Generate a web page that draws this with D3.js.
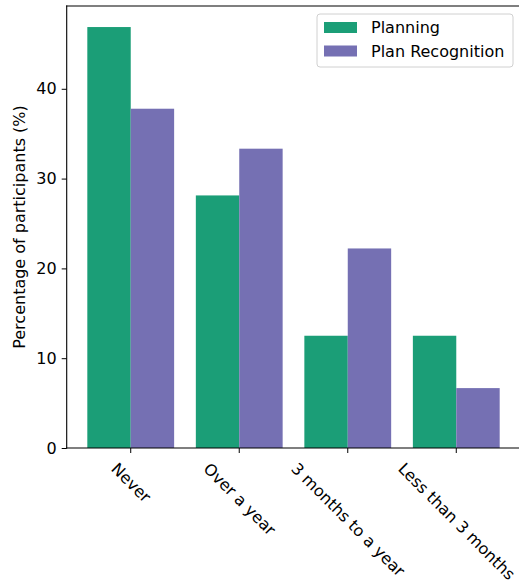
<!DOCTYPE html>
<html>
<head>
<meta charset="utf-8">
<title>participants chart</title>
<script src="https://cdn.jsdelivr.net/npm/d3@7/dist/d3.min.js"></script>
<style>
  html, body { margin: 0; padding: 0; background: #fff; }
  svg text { font-family: "DejaVu Sans", sans-serif; fill: #000; }
</style>
</head>
<body>
<div id="chart"></div>
<script>
// data
var categories = ["Never", "Over a year", "3 months to a year", "Less than 3 months"];
var seriesNames = ["Planning", "Plan Recognition"];
var planning = [46.875, 28.125, 12.5, 12.5];
var planRecognition = [37.78, 33.33, 22.22, 6.67];
var yTicks = [0, 10, 20, 30, 40];
var colors = ["#1b9e77", "#7570b3"];

var w = 519, h = 585;
// note: "top" is taken by window.top, so plot edges get a prefix
var pLeft = 66.7, pRight = 520.3, pTop = 6, pBottom = 448;
var fs = 16;

var svg = d3.select("#chart").append("svg")
  .attr("width", w)
  .attr("height", h);

var x = d3.scaleBand()
  .domain(categories)
  .range([pLeft, pRight])
  .paddingInner(0.2)
  .paddingOuter(0.19);

var xs = d3.scaleBand()
  .domain(seriesNames)
  .range([0, x.bandwidth()]);

var y = d3.scaleLinear()
  .domain([0, 46.875 * 1.05])
  .range([pBottom, pTop]);

var values = [planning, planRecognition];

// bars
seriesNames.forEach(function(s, si) {
  svg.append("g").selectAll("rect")
    .data(categories)
    .enter()
    .append("rect")
    .attr("x", function(d) { return x(d) + xs(s); })
    .attr("width", xs.bandwidth())
    .attr("y", function(d, i) { return y(values[si][i]); })
    .attr("height", function(d, i) { return pBottom - y(values[si][i]); })
    .attr("fill", colors[si]);
});

// y axis
var yAxis = svg.append("g")
  .attr("transform", "translate(" + pLeft + ",0)")
  .call(d3.axisLeft(y).tickValues(yTicks).tickSize(5).tickPadding(5).tickFormat(d3.format("d")));
yAxis.select(".domain").remove();
yAxis.selectAll("line").attr("stroke", "#000").attr("stroke-width", 1);
yAxis.selectAll("text").attr("font-size", fs).attr("font-family", "DejaVu Sans");

// x axis ticks
var xAxis = svg.append("g")
  .attr("transform", "translate(0," + pBottom + ")")
  .call(d3.axisBottom(x).tickSize(5).tickFormat(""));
xAxis.select(".domain").remove();
xAxis.selectAll("line").attr("stroke", "#000").attr("stroke-width", 1);

// rotated category labels, centred on the tick like matplotlib
var a = 0.73 * fs, dsc = 0.1 * fs, c = Math.SQRT1_2;
categories.forEach(function(cat) {
  var t = svg.append("text")
    .attr("font-size", fs)
    .text(cat);
  var tw = t.node().getComputedTextLength();
  var tx = x(cat) + x.bandwidth() / 2;
  var x0 = tx - c * (tw + a - dsc) / 2;
  var y0 = 461.5 + c * a;
  t.attr("transform", "translate(" + x0 + "," + y0 + ") rotate(45)");
});

// frame
svg.append("g").selectAll("line")
  .data([[pLeft, pTop, pLeft, pBottom], [pLeft, pBottom, pRight, pBottom], [pLeft, pTop, pRight, pTop], [pRight, pTop, pRight, pBottom]])
  .enter()
  .append("line")
  .attr("x1", function(d) { return d[0]; })
  .attr("y1", function(d) { return d[1]; })
  .attr("x2", function(d) { return d[2]; })
  .attr("y2", function(d) { return d[3]; })
  .attr("stroke", "#000")
  .attr("stroke-width", 1.1)
  .attr("stroke-linecap", "square");

// y label
svg.append("text")
  .attr("transform", "translate(25," + ((pTop + pBottom) / 2) + ") rotate(-90)")
  .attr("text-anchor", "middle")
  .attr("font-size", fs)
  .text("Percentage of participants (%)");

// legend
var lg = svg.append("g");
lg.append("rect")
  .attr("x", 317).attr("y", 14)
  .attr("width", 196).attr("height", 53)
  .attr("rx", 3)
  .attr("fill", "#fff").attr("fill-opacity", 0.8)
  .attr("stroke", "#d0d0d0");
seriesNames.forEach(function(s, i) {
  lg.append("rect")
    .attr("x", 324).attr("y", 22 + i * 23.5)
    .attr("width", 33).attr("height", 11)
    .attr("fill", colors[i]);
  lg.append("text")
    .attr("x", 371).attr("y", 33 + i * 23.5)
    .attr("font-size", fs)
    .text(s);
});
</script>
</body>
</html>
